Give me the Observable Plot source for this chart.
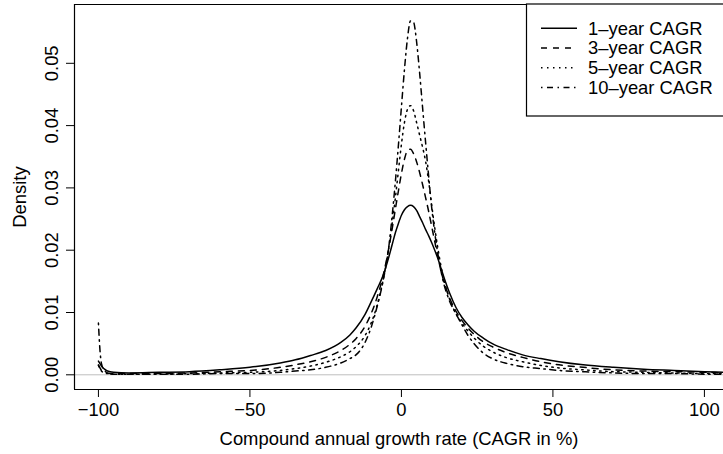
<!DOCTYPE html>
<html><head><meta charset="utf-8">
<script src="https://cdn.jsdelivr.net/npm/d3@7"></script>
<script src="https://cdn.jsdelivr.net/npm/@observablehq/plot@0.6"></script>
<style>
body{margin:0;background:#fff;}
#wrap{position:relative;width:723px;height:454px;font-family:"Liberation Sans",Arial,sans-serif;}
#legend{position:absolute;left:0;top:0;pointer-events:none;}
</style></head><body><div id="wrap"></div>
<script>
// Growth-rate grid (CAGR in %)
const growthRate = [-100,-99.5,-99,-98,-97,-95,-90,-80,-70,-60,-50,-40,-35,-30,-25,-20,-17,-15,-12,-10,-8,-6,-4,-3,-2,-1,0,1,2,3,4,5,6,7,8,9,10,11,12,13,14,15,16,18,20,22,24,27,30,35,40,46,52,60,70,80,90,100,106];

const density1y = [0.0022,0.0018,0.0014,0.0009,0.0006,0.0004,0.0003,0.0004,0.0005,0.0008,0.0012,0.0019,0.0024,0.0031,0.0039,0.0052,0.0064,0.0075,0.0097,0.0117,0.0138,0.0160,0.0192,0.0210,0.0228,0.0243,0.0256,0.0265,0.0270,0.0272,0.0270,0.0264,0.0254,0.0244,0.0233,0.0223,0.0212,0.0200,0.0187,0.0172,0.0157,0.0143,0.0130,0.0108,0.0092,0.0080,0.0070,0.0059,0.0050,0.0040,0.0032,0.0026,0.0021,0.0016,0.0012,0.0009,0.0007,0.0005,0.0004];

const density3y = [0.0016,0.0011,0.0007,0.0004,0.0003,0.0002,0.0002,0.0002,0.0003,0.0005,0.0007,0.0012,0.0016,0.0021,0.0028,0.0039,0.0049,0.0058,0.0078,0.0098,0.0125,0.0160,0.0208,0.0236,0.0266,0.0295,0.0323,0.0346,0.0360,0.0362,0.0355,0.0342,0.0325,0.0305,0.0284,0.0262,0.0238,0.0214,0.0190,0.0168,0.0150,0.0135,0.0122,0.0102,0.0087,0.0075,0.0065,0.0053,0.0045,0.0035,0.0028,0.0021,0.0016,0.0012,0.0008,0.0006,0.0005,0.0004,0.0003];

const density5y = [0.0015,0.0010,0.0006,0.0003,0.0002,0.0001,0.0001,0.0001,0.0002,0.0003,0.0004,0.0007,0.0010,0.0014,0.0020,0.0029,0.0037,0.0045,0.0063,0.0083,0.0112,0.0153,0.0210,0.0245,0.0284,0.0327,0.0370,0.0405,0.0426,0.0432,0.0424,0.0405,0.0385,0.0365,0.0342,0.0310,0.0272,0.0236,0.0204,0.0176,0.0153,0.0135,0.0120,0.0098,0.0083,0.0070,0.0059,0.0046,0.0037,0.0027,0.0021,0.0015,0.0011,0.0008,0.0005,0.0004,0.0003,0.0002,0.0002];

const density10y = [0.0083,0.0040,0.0018,0.0007,0.0003,0.0001,0.0001,0.0001,0.0001,0.0002,0.0002,0.0004,0.0006,0.0008,0.0012,0.0019,0.0026,0.0032,0.0052,0.0076,0.0110,0.0152,0.0212,0.0258,0.0310,0.0368,0.0430,0.0490,0.0540,0.0568,0.0566,0.0535,0.0485,0.0428,0.0372,0.0318,0.0268,0.0228,0.0195,0.0168,0.0146,0.0130,0.0117,0.0098,0.0080,0.0063,0.0050,0.0035,0.0026,0.0018,0.0013,0.0010,0.0007,0.0005,0.0003,0.0002,0.0002,0.0001,0.0001];

const seriesNames = ["1\u2013year CAGR","3\u2013year CAGR","5\u2013year CAGR","10\u2013year CAGR"];
const xTicks = [-100,-50,0,50,100];
const yTicks = [0,0.01,0.02,0.03,0.04,0.05];
const xLabel = "Compound annual growth rate (CAGR in %)";
const yLabel = "Density";

// styles
const dashPatterns = [null, "6,6", "1.5,4.5", "1.5,4.5,6,4.5"];
const lineWidth = 1.5;
const FONT = "18.4px";

const seriesValues = [density1y, density3y, density5y, density10y];
const xDomain = [-107.9, 106.3];
const yDomain = [-0.00236, 0.05944];

const lineMarks = seriesValues.map((vals, s) =>
  Plot.line(growthRate.map((x, i) => ({x, y: vals[i]})), {
    x: "x", y: "y", stroke: "black", strokeWidth: lineWidth,
    strokeDasharray: dashPatterns[s] ?? undefined, curve: "monotone-x"
  })
);

const chart = Plot.plot({
  width: 723, height: 454,
  marginLeft: 74, marginRight: 0, marginTop: 4, marginBottom: 65,
  x: {domain: xDomain, axis: null},
  y: {domain: yDomain, axis: null},
  style: {fontFamily: "'Liberation Sans', Arial, sans-serif", fontSize: FONT, color: "black", background: "white", overflow: "visible"},
  marks: [
    Plot.ruleY([0], {stroke: "#bebebe", strokeWidth: 1}),
    ...lineMarks,
    Plot.ruleY([yDomain[1]], {stroke: "black", strokeWidth: 1.2}),
    Plot.ruleY([yDomain[0]], {stroke: "black", strokeWidth: 1.2}),
    Plot.ruleX([xDomain[0]], {stroke: "black", strokeWidth: 1.2}),
    Plot.axisX(xTicks, {anchor: "bottom", tickSize: 8, tickPadding: 5, tickFormat: d3.format("d"), label: null, fontSize: FONT}),
    Plot.axisY(yTicks, {anchor: "left", tickSize: 8, tickFormat: () => "", label: null}),
    Plot.text(yTicks, {y: d => d, text: d => d3.format(".2f")(d), frameAnchor: "left", dx: -22.6, rotate: -90, textAnchor: "middle", lineAnchor: "middle", fontSize: FONT}),
    Plot.text([yLabel], {frameAnchor: "left", dx: -54.3, rotate: -90, textAnchor: "middle", lineAnchor: "middle", fontSize: FONT}),
    Plot.text([xLabel], {frameAnchor: "bottom", dy: 50, textAnchor: "middle", lineAnchor: "middle", fontSize: FONT})
  ]
});

const wrap = document.getElementById("wrap");
wrap.appendChild(chart);

// Legend (top right, inside the plot box)
const leg = d3.select(wrap).append("svg").attr("id", "legend")
  .attr("width", 723).attr("height", 454);
leg.append("rect").attr("x", 526.5).attr("y", 4).attr("width", 220).attr("height", 112)
  .attr("fill", "white").attr("stroke", "black").attr("stroke-width", 1.2);
seriesNames.forEach((name, i) => {
  const y = 28.3 + i * 19.7;
  leg.append("line").attr("x1", 541).attr("x2", 577).attr("y1", y).attr("y2", y)
    .attr("stroke", "black").attr("stroke-width", lineWidth)
    .attr("stroke-dasharray", dashPatterns[i]);
  leg.append("text").attr("x", 588).attr("y", y).attr("dy", "0.35em")
    .attr("font-family", "'Liberation Sans', Arial, sans-serif").attr("font-size", FONT)
    .text(name);
});
</script></body></html>
